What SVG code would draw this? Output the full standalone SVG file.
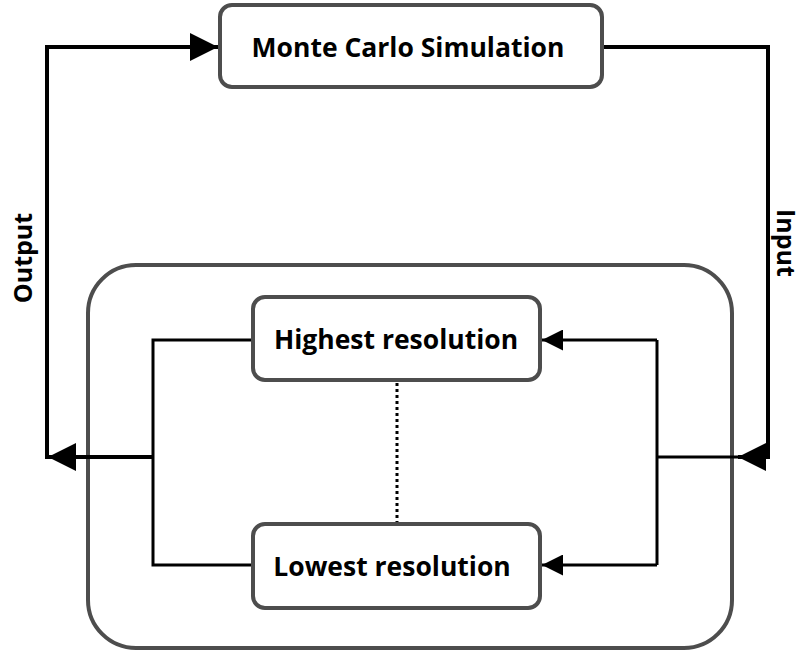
<svg xmlns="http://www.w3.org/2000/svg" width="804" height="655" viewBox="0 0 804 655">
  <style>
    .box { fill: #ffffff; stroke: #4d4d4d; stroke-width: 4; }
    .frame { fill: none; stroke: #4d4d4d; stroke-width: 4; }
    .wire { fill: none; stroke: #000000; stroke-width: 4; stroke-linejoin: miter; }
    .thin { fill: none; stroke: #000000; stroke-width: 3; }
    .dots { fill: none; stroke: #000000; stroke-width: 3; stroke-dasharray: 3 3; }
    .label { font-family: "Open Sans", "Liberation Sans", sans-serif; font-weight: bold; font-size: 26.5px; fill: #000000; text-anchor: middle; }
    .side { font-family: "Open Sans", "Liberation Sans", sans-serif; font-weight: bold; font-size: 25px; fill: #000000; text-anchor: middle; }
  </style>
  <defs>
    <marker id="head" viewBox="0 0 10 10" refX="10" refY="5" markerWidth="7" markerHeight="7" markerUnits="strokeWidth" orient="auto">
      <path d="M0,0 L10,5 L0,10 Z" fill="#000000"/>
    </marker>
  </defs>

  <!-- enclosing group of resolution levels -->
  <g id="levels">
    <rect class="frame" x="88" y="265" width="644" height="383" rx="48" ry="48"/>
  </g>

  <g id="connectors">
    <!-- simulation output back to the start -->
    <path class="wire" d="M153,457 L48,457" marker-end="url(#head)"/>
    <path class="wire" d="M47,459 L47,47 L218,47" marker-end="url(#head)"/>
    <!-- simulation to input -->
    <path class="wire" d="M603,47 L768,47 L768,457 L738,457" marker-end="url(#head)"/>
    <path class="thin" d="M740,457 L657,457"/>
    <!-- fan out to the resolution levels -->
    <path class="thin" d="M657,340 L657,565"/>
    <path class="thin" d="M657,340 L542,340" marker-end="url(#head)"/>
    <path class="thin" d="M657,565 L542,565" marker-end="url(#head)"/>
    <!-- collect from the resolution levels -->
    <path class="thin" d="M253,340 L153,340 L153,565 L253,565"/>
    <!-- intermediate levels -->
    <path class="dots" d="M397,383 L397,522"/>
  </g>

  <g id="monte-carlo">
    <rect class="box" x="220" y="5" width="382" height="82" rx="12" ry="12"/>
    <text class="label" x="408" y="57">Monte Carlo Simulation</text>
  </g>

  <g id="highest">
    <rect class="box" x="253" y="297" width="287" height="83" rx="12" ry="12"/>
    <text class="label" x="396" y="349">Highest resolution</text>
  </g>

  <g id="lowest">
    <rect class="box" x="253" y="524" width="287" height="84" rx="12" ry="12"/>
    <text class="label" x="392" y="576">Lowest resolution</text>
  </g>

  <g id="output-label">
    <text class="side" transform="translate(32,258) rotate(-90)">Output</text>
  </g>
  <g id="input-label">
    <text class="side" transform="translate(777,243) rotate(90)">Input</text>
  </g>
</svg>
